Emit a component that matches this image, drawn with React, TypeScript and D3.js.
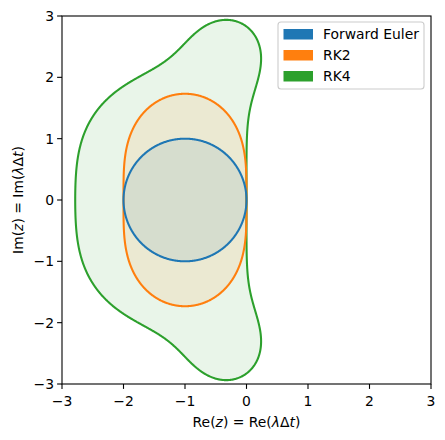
import React from "react";
import * as d3 from "d3";

// Stability polynomial coefficients R(z) = sum c_k z^k
const methodNames = ["Forward Euler", "RK2", "RK4"];
const coefEuler = [1, 1];
const coefRK2 = [1, 1, 1 / 2];
const coefRK4 = [1, 1, 1 / 2, 1 / 6, 1 / 24];
const colors = ["#1f77b4", "#ff7f0e", "#2ca02c"];
const xTicks = [-3, -2, -1, 0, 1, 2, 3];
const yTicks = [-3, -2, -1, 0, 1, 2, 3];

const W = 445, H = 440;
const L = 62, R = 431, T = 16, B = 384;
const FS = 13.9;
const FONT = "DejaVu Sans, sans-serif";
const minus = (v: number) => (v < 0 ? "\u2212" + Math.abs(v) : String(v));

function absR(coef: number[], re: number, im: number) {
  let pr = 0, pi = 0;
  for (let k = coef.length - 1; k >= 0; k--) {
    const nr = pr * re - pi * im + coef[k];
    const ni = pr * im + pi * re;
    pr = nr; pi = ni;
  }
  return Math.hypot(pr, pi);
}

const N = 601;
const step = 6 / (N - 1);

export default function App() {
  const x = d3.scaleLinear().domain([-3, 3]).range([L, R]);
  const y = d3.scaleLinear().domain([-3, 3]).range([B, T]);
  const proj = d3.geoTransform({
    point: function (cx: number, cy: number) {
      const re = -3 + (cx - 0.5) * step;
      const im = 3 - (cy - 0.5) * step;
      (this as any).stream.point(x(re), y(im));
    },
  });
  const path = d3.geoPath(proj);
  const coefs = [coefEuler, coefRK2, coefRK4];
  const shapes = coefs.map((c) => {
    const vals = new Float64Array(N * N);
    for (let j = 0; j < N; j++) {
      const im = 3 - j * step;
      for (let i = 0; i < N; i++) {
        const re = -3 + i * step;
        vals[j * N + i] = 1 - absR(c, re, im);
      }
    }
    const cont = d3.contours().size([N, N]).thresholds([0])(Array.from(vals));
    return path(cont[0] as any) || "";
  });
  const drawOrder = [2, 1, 0];
  return (
    <svg width={W} height={H} style={{ display: "block", position: "absolute", left: 0, top: 0 }} fontFamily={FONT}>
      <rect width={W} height={H} fill="white" />
      <defs>
        <clipPath id="clip"><rect x={L} y={T} width={R - L} height={B - T} /></clipPath>
      </defs>
      <g clipPath="url(#clip)">
        {drawOrder.map((k) => (
          <path key={"f" + k} d={shapes[k]} fill={colors[k]} fillOpacity={0.1} stroke="none" />
        ))}
        {drawOrder.map((k) => (
          <path key={"l" + k} d={shapes[k]} fill="none" stroke={colors[k]} strokeWidth={2.08} strokeLinejoin="round" />
        ))}
      </g>
      <rect x={L} y={T} width={R - L} height={B - T} fill="none" stroke="black" strokeWidth={1.1} />
      {xTicks.map((t) => (
        <g key={"x" + t}>
          <line x1={x(t)} x2={x(t)} y1={B} y2={B + 4.9} stroke="black" strokeWidth={1.1} />
          <text x={x(t)} y={B + 21.5} fontSize={FS} textAnchor="middle">{minus(t)}</text>
        </g>
      ))}
      {yTicks.map((t) => (
        <g key={"y" + t}>
          <line x1={L - 4.9} x2={L} y1={y(t)} y2={y(t)} stroke="black" strokeWidth={1.1} />
          <text x={L - 8} y={y(t) + 5} fontSize={FS} textAnchor="end">{minus(t)}</text>
        </g>
      ))}
      <text x={(L + R) / 2} y={427} fontSize={FS} textAnchor="middle">
        Re(<tspan fontStyle="italic">z</tspan>) = Re(<tspan fontStyle="italic">λ</tspan>Δ<tspan fontStyle="italic">t</tspan>)
      </text>
      <text transform={`translate(23,${(T + B) / 2}) rotate(-90)`} fontSize={FS} textAnchor="middle">
        Im(<tspan fontStyle="italic">z</tspan>) = Im(<tspan fontStyle="italic">λ</tspan>Δ<tspan fontStyle="italic">t</tspan>)
      </text>
      <g>
        <rect x={278} y={22} width={146} height={67} rx={3} fill="white" fillOpacity={0.8} stroke="#cccccc" strokeWidth={1.1} />
        {methodNames.map((n, i) => (
          <g key={n}>
            <rect x={283.5} y={29 + i * 21} width={29.5} height={10.5} fill={colors[i]} />
            <text x={323} y={39 + i * 21} fontSize={FS}>{n}</text>
          </g>
        ))}
      </g>
    </svg>
  );
}
